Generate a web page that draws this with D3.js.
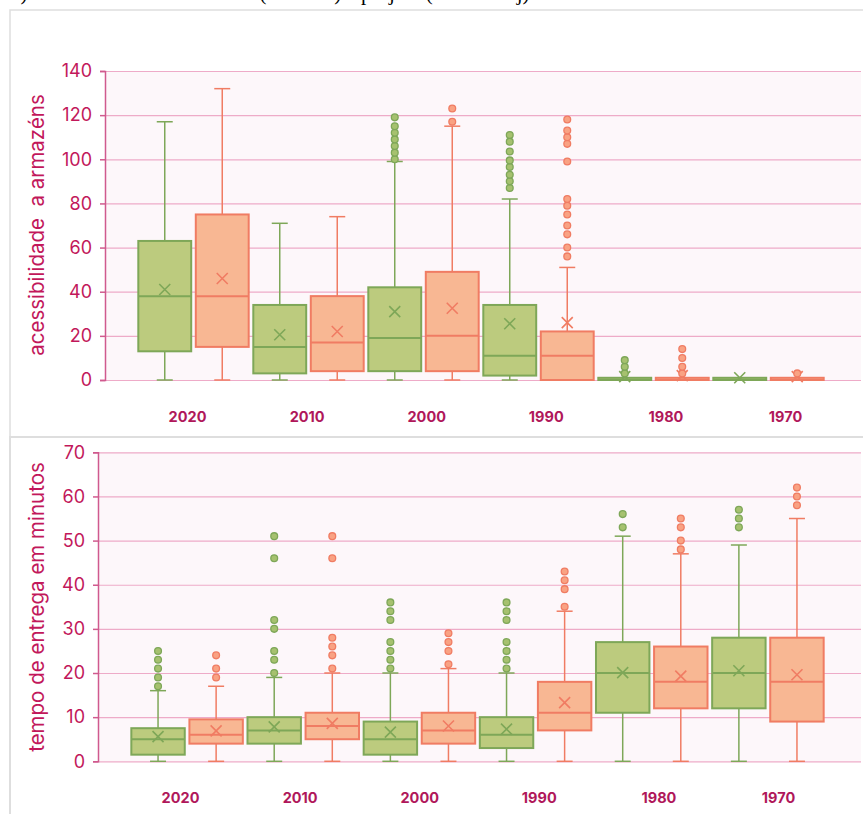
<!DOCTYPE html>
<html>
<head>
<meta charset="utf-8">
<script src="https://cdn.jsdelivr.net/npm/d3@7"></script>
<style>
  body { margin: 0; background: #fff; }
  svg { display: block; font-family: Inter, "Open Sans", sans-serif; }
</style>
</head>
<body>
<script>
// categorias e séries
let anos = ["2020", "2010", "2000", "1990", "1980", "1970"];
let series = ["verde", "laranja"];

// acessibilidade a armazéns: [min, q1, mediana, q3, max]
let acessVerde = [[0,13,38,63,117],[0,3,15,34,71],[0,4,19,42,99],[0,2,11,34,82],[0,0,0,1,1],[0,0,0,1,1]];
let acessVerdeMedia = [41, 20.5, 31, 25.5, 1.5, 1];
let acessVerdeOut = [[],[],[100,103,106,109,112,115,119],[87,90,93,96.5,99.5,103.5,108,111],[3,6,9],[]];
let acessLaranja = [[0,15,38,75,132],[0,4,17,38,74],[0,4,20,49,115],[0,0,11,22,51],[0,0,0,1,1],[0,0,0,1,1]];
let acessLaranjaMedia = [46, 22, 32.5, 26, 2, 1.5];
let acessLaranjaOut = [[],[],[117,123],[56,60,66,70,75,79,82,99,107,110,113,118],[3,6,10,14],[3]];

// tempo de entrega em minutos
let tempoVerde = [[0,1.5,5,7.5,16],[0,4,7,10,19],[0,1.5,5,9,20],[0,3,6,10,20],[0,11,20,27,51],[0,12,20,28,49]];
let tempoVerdeMedia = [5.6, 7.8, 6.6, 7.3, 20.1, 20.5];
let tempoVerdeOut = [[17,19,21,23,25],[20,23,25,30,32,46,51],[21,23,25,27,32,34,36],[21,23,25,27,32,34,36],[53,56],[53,55,57]];
let tempoLaranja = [[0,4,6,9.5,17],[0,5,8,11,20],[0,4,7,11,21],[0,7,11,18,34],[0,12,18,26,47],[0,9,18,28,55]];
let tempoLaranjaMedia = [6.9, 8.6, 8, 13.3, 19.3, 19.6];
let tempoLaranjaOut = [[19,21,24],[21,24,26,28,46,51],[22,25,27,29],[35,39,41,43],[48,50,53,55],[58,60,62]];

let acessTicks = d3.range(0, 141, 20);
let tempoTicks = d3.range(0, 71, 10);

let cores = {
    verde:   { fill: "#bccb7e", stroke: "#7ea758", dot: "#a6c16f" },
    laranja: { fill: "#f8b793", stroke: "#f07c63", dot: "#f9a283" },
}

let width = 863, height = 814;
let svg = d3.select("body").append("svg")
    .attr("width", width)
    .attr("height", height)

// texto cortado acima (legenda da figura)
svg.append("text")
    .attr("x", 10).attr("y", 0)
    .style("font-family", "'Liberation Serif', serif")
    .style("font-size", "21px")
    .attr("fill", "#000")
    .text("b) Acessibilidade a armazéns (minutos) e projeto (cada área j)")

// molduras dos painéis
svg.append("rect").attr("x", 10).attr("y", 10).attr("width", 870).attr("height", 427)
    .attr("fill", "#fff").attr("stroke", "#dedede").attr("stroke-width", 1.5)
svg.append("rect").attr("x", 10).attr("y", 437).attr("width", 870).attr("height", 400)
    .attr("fill", "#fff").attr("stroke", "#dedede").attr("stroke-width", 2)

function build(values, medias, outs) {
    return values.map((v, i) => ({ ano: anos[i], min: v[0], q1: v[1], med: v[2], q3: v[3], max: v[4], mean: medias[i], out: outs[i] }))
}

function drawPanel(cfg) {
    let g = svg.append("g")
    let y = d3.scaleLinear().domain([0, cfg.ticks[cfg.ticks.length - 1]]).range([cfg.bottom, cfg.top])
    let xCat = d3.scaleBand().domain(anos).range([cfg.left + 31, cfg.right - 35])
    let xSer = d3.scaleBand().domain(series).range([0, xCat.bandwidth()]).paddingInner(0.08).paddingOuter(0.04)
    let xLab = d3.scalePoint().domain(anos).range([cfg.left + 82, cfg.left + 680])

    g.append("rect")
        .attr("x", cfg.left).attr("y", cfg.top)
        .attr("width", cfg.right - cfg.left).attr("height", cfg.bottom - cfg.top)
        .attr("fill", "#fdf7fa")

    // grade
    g.append("g")
        .attr("transform", `translate(${cfg.left},0)`)
        .call(d3.axisLeft(y).tickValues(cfg.ticks).tickSize(-(cfg.right - cfg.left)).tickFormat(""))
        .call(a => a.select(".domain").remove())
        .call(a => a.selectAll("line").attr("stroke", "#eeabc8").attr("stroke-width", 1.2))

    // eixo y
    let ay = g.append("g")
        .attr("transform", `translate(${cfg.left},0)`)
        .call(d3.axisLeft(y).tickValues(cfg.ticks).tickSize(5).tickPadding(8))
    ay.select(".domain").attr("stroke", "#d05a8e").attr("stroke-width", 1.5)
    ay.selectAll(".tick line").attr("stroke", "#d05a8e").attr("stroke-width", 1.5)
    ay.selectAll(".tick text")
        .attr("fill", "#c2185b")
        .style("font-size", "18px")
        .style("font-family", "Inter, sans-serif")

    g.append("text")
        .attr("transform", `translate(${cfg.titleX},${cfg.titleY}) rotate(-90)`)
        .attr("text-anchor", "middle")
        .attr("dy", "0.35em")
        .attr("fill", "#c2185b")
        .style("font-size", "20.5px")
        .style("white-space", "pre")
        .text(cfg.title)

    // eixo x (rótulos)
    let ax = g.append("g")
        .attr("transform", `translate(0,${cfg.bottom + 37})`)
        .call(d3.axisBottom(xLab).tickSize(0).tickPadding(0))
    ax.select(".domain").remove()
    ax.selectAll("text")
        .attr("dy", "0.35em")
        .attr("fill", "#b0175a")
        .style("font-size", "14.5px")
        .style("font-weight", "700")
        .style("font-family", "Inter, sans-serif")

    cfg.data.forEach((d, si) => {
        let s = series[si]
        let c = cores[s]
        let bw = xSer.bandwidth()
        let boxes = g.append("g").selectAll("g").data(d).join("g")
            .attr("transform", b => `translate(${xCat(b.ano) + xSer(s)},0)`)

        // bigodes
        boxes.append("line")
            .attr("x1", bw / 2).attr("x2", bw / 2)
            .attr("y1", b => y(b.max)).attr("y2", b => y(b.q3))
            .attr("stroke", c.stroke).attr("stroke-width", 1.5)
        boxes.append("line")
            .attr("x1", bw / 2).attr("x2", bw / 2)
            .attr("y1", b => y(b.q1)).attr("y2", b => y(b.min))
            .attr("stroke", c.stroke).attr("stroke-width", 1.5)
        boxes.filter(b => b.max > b.q3).append("line")
            .attr("x1", bw / 2 - 8).attr("x2", bw / 2 + 8)
            .attr("y1", b => y(b.max)).attr("y2", b => y(b.max))
            .attr("stroke", c.stroke).attr("stroke-width", 1.5)
        boxes.filter(b => b.min < b.q1).append("line")
            .attr("x1", bw / 2 - 8).attr("x2", bw / 2 + 8)
            .attr("y1", b => y(b.min)).attr("y2", b => y(b.min))
            .attr("stroke", c.stroke).attr("stroke-width", 1.5)

        // caixa
        boxes.append("rect")
            .attr("x", 0).attr("width", bw)
            .attr("y", b => y(b.q3))
            .attr("height", b => y(b.q1) - y(b.q3))
            .attr("fill", c.fill)
            .attr("stroke", c.stroke).attr("stroke-width", 2)
        boxes.append("line")
            .attr("x1", 0).attr("x2", bw)
            .attr("y1", b => y(b.med)).attr("y2", b => y(b.med))
            .attr("stroke", c.stroke).attr("stroke-width", 2)

        // média (x)
        boxes.append("path")
            .attr("d", b => `M${bw/2-5.5},${y(b.mean)-5.5}L${bw/2+5.5},${y(b.mean)+5.5}M${bw/2-5.5},${y(b.mean)+5.5}L${bw/2+5.5},${y(b.mean)-5.5}`)
            .attr("stroke", c.stroke).attr("stroke-width", 1.6).attr("fill", "none")

        // valores atípicos
        boxes.selectAll("circle").data(b => b.out).join("circle")
            .attr("cx", bw / 2)
            .attr("cy", v => y(v))
            .attr("r", 3.4)
            .attr("fill", c.dot)
            .attr("stroke", c.stroke).attr("stroke-width", 1.3)
    })
}

drawPanel({
    left: 105, right: 861, top: 71, bottom: 380,
    ticks: acessTicks,
    title: "acessibilidade  a armazéns",
    titleX: 37, titleY: 225,
    data: [build(acessVerde, acessVerdeMedia, acessVerdeOut), build(acessLaranja, acessLaranjaMedia, acessLaranjaOut)],
})

drawPanel({
    left: 98, right: 861, top: 452.3, bottom: 761.3,
    ticks: tempoTicks,
    title: "tempo de entrega em minutos",
    titleX: 37, titleY: 607,
    data: [build(tempoVerde, tempoVerdeMedia, tempoVerdeOut), build(tempoLaranja, tempoLaranjaMedia, tempoLaranjaOut)],
})
</script>
</body>
</html>
